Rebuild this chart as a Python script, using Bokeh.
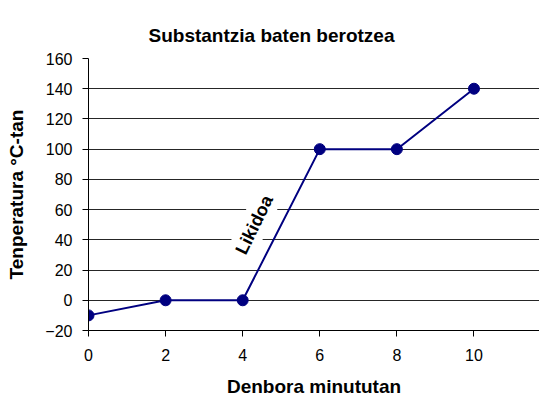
from bokeh.plotting import figure
from bokeh.models import FixedTicker, Label, Range1d
from bokeh.embed import file_html
from bokeh.resources import INLINE

denbora = [0, 2, 4, 6, 8, 10]
tenperatura = [-10, 0, 0, 100, 100, 140]
x_ticks = [0, 2, 4, 6, 8, 10]
y_ticks = [-20, 0, 20, 40, 60, 80, 100, 120, 140, 160]
etiketa = "Likidoa"
etiketa_x = 4.3
etiketa_y = 50
izenburua = "Substantzia baten berotzea"
x_izena = "Denbora minututan"
y_izena = "Tenperatura °C-tan"

p = figure(frame_width=451, frame_height=272, output_backend="svg", toolbar_location=None,
           title=izenburua,
           x_range=Range1d(0, 11.7), y_range=Range1d(-20, 160),
           min_border_left=88, min_border_right=0, min_border_top=58, min_border_bottom=62)

p.title.align = "left"
p.title.offset = 60
p.title.text_font = "Liberation Sans"
p.title.text_font_size = "19px"
p.title.text_font_style = "bold"
p.title.text_color = "#000000"
p.title.standoff = 25
p.title.padding = 0

p.outline_line_color = None
p.background_fill_color = "white"
p.border_fill_color = "white"

p.xgrid.grid_line_color = None
p.ygrid.grid_line_color = "#000000"
p.ygrid.grid_line_alpha = 0.85
p.ygrid.ticker = FixedTicker(ticks=y_ticks)

p.xaxis.ticker = FixedTicker(ticks=x_ticks)
p.yaxis.ticker = FixedTicker(ticks=y_ticks)
for ax in (p.xaxis, p.yaxis):
    ax.axis_line_color = "#000000"
    ax.major_tick_line_color = "#000000"
    ax.major_tick_out = 6
    ax.major_tick_in = 0
    ax.minor_tick_line_color = None
    ax.major_label_text_font = "Liberation Sans"
    ax.major_label_text_font_size = "16px"
    ax.major_label_text_color = "#000000"
    ax.axis_label_text_font = "Liberation Sans"
    ax.axis_label_text_font_size = "19px"
    ax.axis_label_text_font_style = "bold"
    ax.axis_label_text_color = "#000000"

p.xaxis.axis_label = x_izena
p.yaxis.axis_label = y_izena
p.xaxis.major_label_standoff = 12
p.xaxis.axis_label_standoff = 12
p.yaxis.major_label_standoff = 10
p.yaxis.axis_label_standoff = 15

p.line(denbora, tenperatura, line_color="#000080", line_width=2)
p.scatter(denbora, tenperatura, size=11, fill_color="#000080", line_color="#000080")

lbl = Label(x=etiketa_x, y=etiketa_y, text=etiketa, angle=64, angle_units="deg",
            text_align="center", text_baseline="middle",
            text_font="Liberation Sans", text_font_size="18px", text_font_style="bold",
            text_color="#000000", background_fill_color="white",
            padding=4)
p.add_layout(lbl)

open("out.html", "w").write(file_html(p, INLINE))
